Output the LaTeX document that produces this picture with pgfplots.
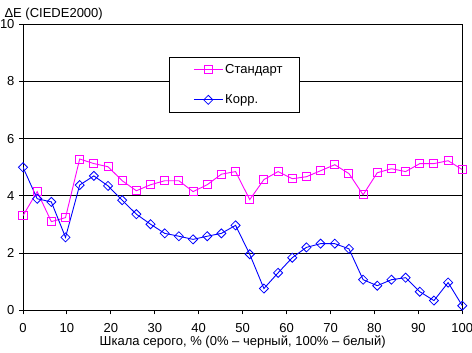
\documentclass[border=0pt]{standalone}
\usepackage{fontspec}
\setmainfont{Liberation Sans}
\usepackage{pgfplots}
\usepackage{pgfplotstable}
\pgfplotsset{compat=1.18}
\definecolor{magen}{RGB}{255,0,255}
\definecolor{blu}{RGB}{0,0,255}
\pgfplotstableread{
x std corr
0 3.31 5.00
3.226 4.15 3.90
6.452 3.10 3.79
9.677 3.24 2.55
12.903 5.29 4.38
16.129 5.13 4.70
19.355 5.02 4.35
22.581 4.53 3.85
25.806 4.18 3.36
29.032 4.39 3.01
32.258 4.53 2.69
35.484 4.53 2.59
38.710 4.15 2.48
41.935 4.39 2.59
45.161 4.76 2.69
48.387 4.85 2.97
51.613 3.87 1.96
54.839 4.57 0.76
58.065 4.85 1.31
61.290 4.60 1.84
64.516 4.67 2.20
67.742 4.88 2.33
70.968 5.09 2.33
74.194 4.78 2.15
77.419 4.04 1.07
80.645 4.81 0.86
83.871 4.95 1.07
87.097 4.85 1.14
90.323 5.13 0.65
93.548 5.13 0.34
96.774 5.23 0.97
100 4.92 0.16
}\datatable
\begin{document}
\fontsize{13bp}{15bp}\selectfont
\begin{tikzpicture}
\useasboundingbox (0,0) rectangle (472bp,353bp);
\begin{axis}[
  at={(23bp,42.7bp)}, anchor=south west,
  scale only axis, width=439.3bp, height=286bp,
  xmin=0, xmax=100, ymin=0, ymax=10,
  xtick={0,10,...,100}, ytick={0,2,...,10},
  xtick pos=bottom, ytick pos=left,
  tick align=outside, major tick length=4bp,
  tick style={black, line width=1bp},
  axis line style={black, line width=1bp},
  ymajorgrids, grid style={black, line width=1bp},
  /pgf/number format/assume math mode=true,
  ticklabel style={font=\fontsize{13bp}{15bp}\selectfont},
  xticklabel style={yshift=-5bp},
  label style={font=\fontsize{13bp}{15bp}\selectfont},
  xlabel={Шкала серого, \% (0\% – черный, 100\% – белый)},
  every axis x label/.style={at={(axis description cs:0.5,-0.1248)}, anchor=base},
  every axis y label/.style={at={(axis description cs:-0.0524,1.0255)}, anchor=base west},
  ylabel={ΔE (CIEDE2000)},
  legend style={at={(axis description cs:0.332,0.886)}, anchor=north west,
    draw=black, line width=1bp, fill=white, inner xsep=15bp, inner ysep=5bp,
    row sep=15bp, font=\fontsize{13bp}{15bp}\selectfont},
  legend cell align=left,
  legend image code/.code={\path (0bp,0bp); \draw[mark repeat=2,mark phase=2,#1] plot coordinates {(9bp,0bp) (23.5bp,0bp) (38bp,0bp)};},
]
\addplot[magen, line width=0.9bp, mark=square, mark size=4bp, mark options={fill=white, line width=1bp}] table[x=x,y=std] {\datatable};
\addlegendentry{Стандарт}
\addplot[blu, line width=0.9bp, mark=square, mark size=3.2bp, mark options={rotate=45, fill=white, line width=0.8bp}] table[x=x,y=corr] {\datatable};
\addlegendentry{Корр.}
\end{axis}
\end{tikzpicture}
\end{document}
